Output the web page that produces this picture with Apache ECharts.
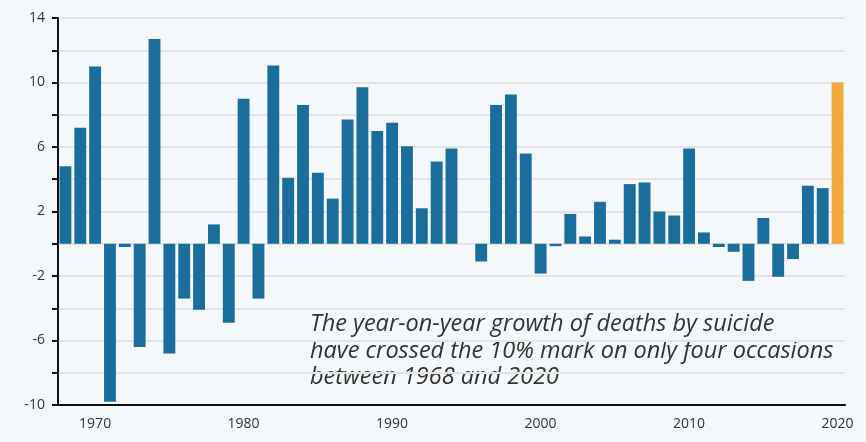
<!DOCTYPE html>
<html>
<head>
<meta charset="utf-8">
<script src="https://cdn.jsdelivr.net/npm/echarts@6/dist/echarts.min.js"></script>
<style>
  html, body { margin: 0; padding: 0; background: #f5f8fa; }
  #main { width: 866px; height: 442px; }
</style>
</head>
<body>
<div id="main"></div>
<script>
const years = [];
for (let y = 1968; y <= 2020; y++) years.push(String(y));

// year-on-year growth of suicide deaths, %
const growth = [
  4.8, 7.2, 11.0, -9.8, -0.2, -6.4, 12.7, -6.8, -3.4, -4.1,
  1.2, -4.9, 9.0, -3.4, 11.05, 4.1, 8.6, 4.4, 2.8, 7.7,
  9.7, 7.0, 7.5, 6.05, 2.2, 5.1, 5.9, 0, -1.1, 8.6,
  9.25, 5.6, -1.85, -0.15, 1.85, 0.45, 2.6, 0.25, 3.7, 3.8,
  2.0, 1.75, 5.9, 0.7, -0.2, -0.5, -2.3, 1.6, -2.05, -0.95,
  3.6, 3.45, 10.0
];
const highlightYear = '2020';

const noteLines = [
  'The year-on-year growth of deaths by suicide',
  'have crossed the 10% mark on only four occasions',
  'between 1968 and 2020'
];

window.onload = function () {
  const chartDom = document.getElementById('main');
  const myChart = echarts.init(chartDom);

  const option = {
    backgroundColor: '#f5f8fa',
    animation: false,
    grid: { left: 58, right: 21, top: 18, bottom: 37 },
    xAxis: {
      type: 'category',
      data: years,
      axisLine: { onZero: false, lineStyle: { color: '#111', width: 2 } },
      axisTick: {
        alignWithLabel: true,
        length: 8,
        lineStyle: { color: '#111', width: 2 },
        interval: function (i, v) { return Number(v) % 10 === 0; }
      },
      axisLabel: {
        interval: function (i, v) { return Number(v) % 10 === 0; },
        color: '#333',
        fontFamily: 'Open Sans',
        fontSize: 14,
        margin: 12
      }
    },
    yAxis: {
      type: 'value',
      min: -10,
      max: 14,
      interval: 2,
      axisLine: { show: true, lineStyle: { color: '#111', width: 2 } },
      axisTick: { show: true, length: 6, lineStyle: { color: '#111', width: 2 } },
      axisLabel: {
        color: '#333',
        fontFamily: 'Open Sans',
        fontSize: 14,
        margin: 13,
        formatter: function (v) { return (v + 10) % 4 === 0 ? String(v) : ''; }
      },
      splitLine: { lineStyle: { color: '#e2e4e6', width: 2 } }
    },
    series: [{
      type: 'bar',
      data: growth,
      barCategoryGap: '20%',
      itemStyle: {
        color: function (p) { return years[p.dataIndex] === highlightYear ? '#f2a93b' : '#1b6e9b'; }
      }
    }],
    graphic: noteLines.map(function (t, i) {
      return {
        type: 'text',
        left: 310,
        top: 313 + i * 26.5,
        style: {
          text: t,
          fill: '#333',
          font: 'italic 23.5px "Open Sans"'
        }
      };
    })
  };

  option && myChart.setOption(option);
};
</script>
</body>
</html>
